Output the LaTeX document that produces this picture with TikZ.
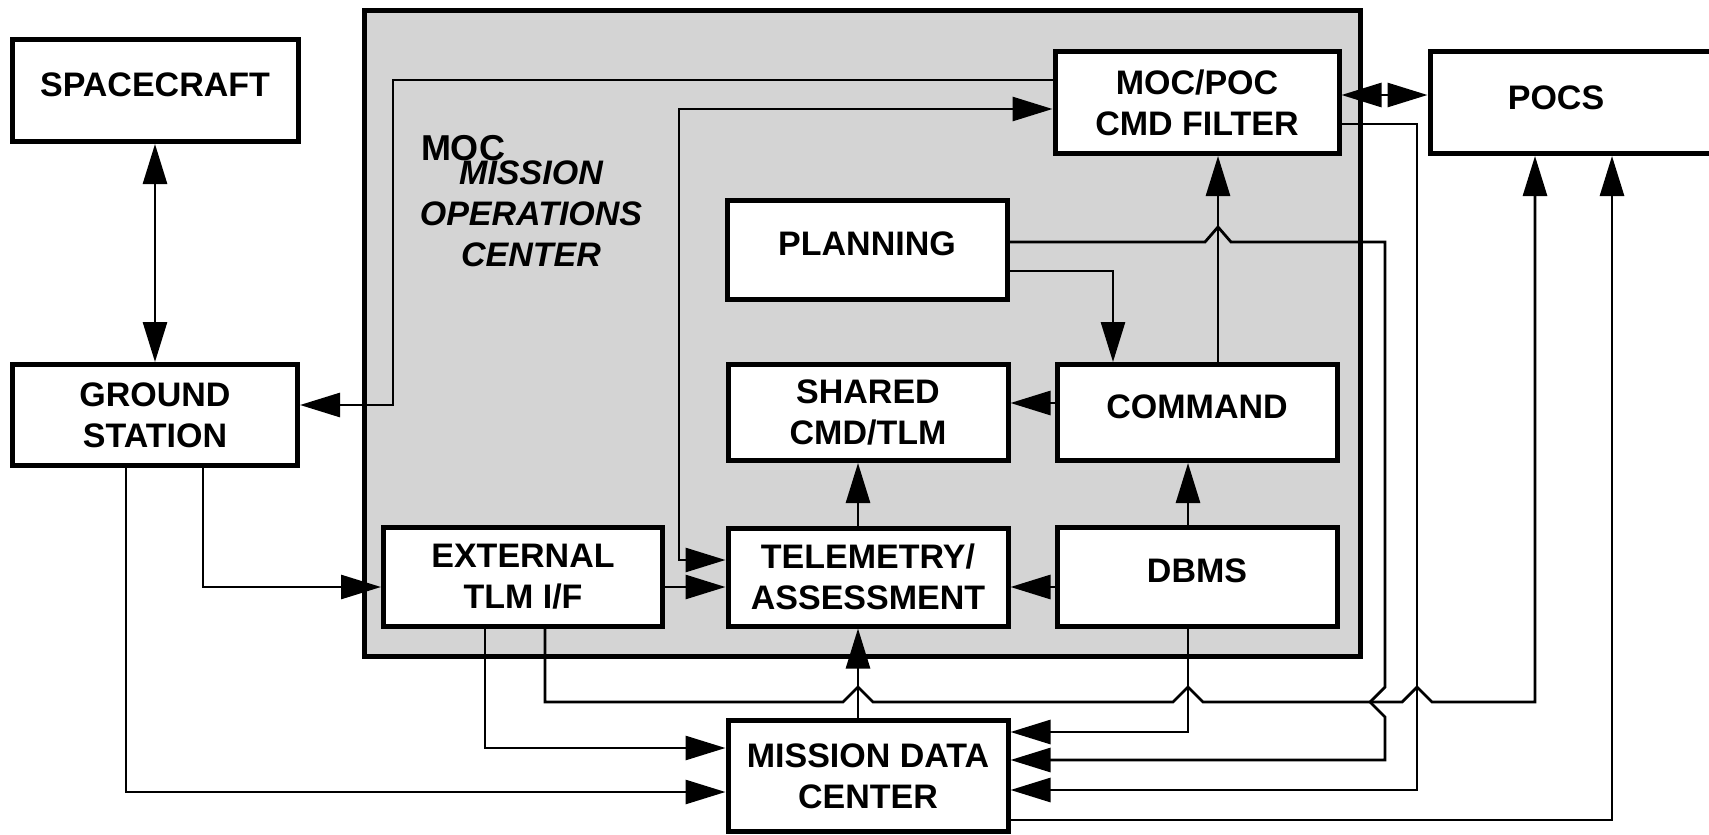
\documentclass[tikz,border=0pt]{standalone}
\usepackage{fontspec}
\setmainfont{Liberation Sans}
\usetikzlibrary{arrows.meta}

\tikzset{
  box/.style={draw,line width=2.5pt,fill=white,inner sep=0pt,align=center,minimum width=140pt,minimum height=49pt},
  uptext/.style={text depth=6pt},
  link/.style={line width=1.4pt},
  arr/.style={link,-{Triangle[length=20pt,width=12pt]}},
  dblarr/.style={link,{Triangle[length=20pt,width=12pt]}-{Triangle[length=20pt,width=12pt]}},
}

\begin{document}
\begin{tikzpicture}[x=0.5pt,y=-0.5pt,font=\fontsize{17pt}{20.5pt}\selectfont\bfseries]
  \useasboundingbox (0,0) rectangle (1709,835);

  % mission operations center
  \node[draw,line width=2.5pt,fill=black!17,minimum width=498pt,minimum height=323pt,inner sep=0pt] (moc) at (862,333) {};
  \node[anchor=base,font=\fontsize{18pt}{20pt}\selectfont\bfseries] (moclabel) at (463,160) {MOC};
  \node[align=center,inner sep=0pt,font=\fontsize{17pt}{20.5pt}\selectfont\bfseries\itshape] (mocname) at (531,214) {MISSION\\OPERATIONS\\CENTER};

  % boxes
  \node[box,uptext,minimum width=143pt,minimum height=51pt] (sc) at (155,90.5) {SPACECRAFT};
  \node[box,minimum width=142.5pt,minimum height=50.5pt] (gs) at (155,415) {GROUND\\STATION};
  \node[box,minimum width=142pt,minimum height=51pt] (filter) at (1197,102.5) {MOC/POC\\CMD FILTER};
  \node[box,minimum width=165pt,minimum height=51pt] (pocs) at (1595,102.5) {};
  \node (pocstext) at (1556,98) {POCS};
  \node[box,uptext,minimum height=49.5pt] (plan) at (867,250) {PLANNING};
  \node[box,minimum height=48pt] (shared) at (868,412.5) {SHARED\\CMD/TLM};
  \node[box,uptext,minimum height=48pt] (cmd) at (1197,412.5) {COMMAND};
  \node[box,minimum width=139.5pt,minimum height=49.5pt] (ext) at (523,577) {EXTERNAL\\TLM I/F};
  \node[box,minimum height=49pt] (tlm) at (868,577) {TELEMETRY/\\ASSESSMENT};
  \node[box,uptext,minimum height=49.5pt] (dbms) at (1197,577) {DBMS};
  \node[box,minimum height=55.5pt] (mdc) at (868,776) {MISSION DATA\\CENTER};

  % links
  \draw[dblarr] (sc.south) -- (gs.north);
  \draw[arr] ([yshift=11.25pt]filter.west) -- (393,80) |- ([yshift=5pt]gs.east);
  \draw[dblarr] ([yshift=8.5pt]tlm.west) -- (679,560) |- ([yshift=-3.25pt]filter.west);
  \draw[dblarr] ([yshift=3.75pt]filter.east) -- ([yshift=3.75pt]pocs.west);
  \draw[arr] ([xshift=10.5pt]cmd.north) -- ([xshift=10.5pt]filter.south);
  \draw[arr] ([yshift=-10.5pt]plan.east) -| ([xshift=-42pt]cmd.north);
  \draw[arr] ([yshift=4.75pt]cmd.west) -- ([yshift=4.75pt]shared.east);
  \draw[arr] ([xshift=-5pt]tlm.north) -- ([xshift=-5pt]shared.south);
  \draw[arr] ([xshift=-4.5pt]dbms.north) -- ([xshift=-4.5pt]cmd.south);
  \draw[arr] ([yshift=-5pt]dbms.west) -- ([yshift=-5pt]tlm.east);
  \draw[arr] ([yshift=-5pt]ext.east) -- ([yshift=-5pt]tlm.west);
  \draw[arr] ([xshift=24pt]gs.south) |- ([yshift=-5pt]ext.west);
  \draw[arr] ([xshift=-14.5pt]gs.south) |- ([yshift=-8pt]mdc.west);
  \draw[arr] ([xshift=-19pt]ext.south) |- ([yshift=14pt]mdc.west);
  \draw[arr] ([xshift=-5pt]mdc.north) -- ([xshift=-5pt]tlm.south);
  \draw[arr] ([xshift=-4.5pt]dbms.south) |- ([yshift=22pt]mdc.east);
  % lines with hops over crossings
  \draw[arr] ([xshift=11pt]ext.south) |- (843,702) -- (858,687) -- (873,702) -- (1173,702) -- (1188,687) -- (1203,702)
    -- (1402,702) -- (1417,687) -- (1432,702) -| ([xshift=-30pt]pocs.south);
  \draw[arr] ([yshift=4pt]plan.east) -- (1205,242) -- (1218,227) -- (1231,242) -- (1385,242) -- (1385,687)
    -- (1370,702) -- (1385,717) |- ([yshift=8pt]mdc.east);
  \draw[arr] ([yshift=-10.75pt]filter.east) -- (1417,124) |- ([yshift=-7pt]mdc.east);
  \draw[arr] ([yshift=-22pt]mdc.east) -| ([xshift=8.5pt]pocs.south);
\end{tikzpicture}
\end{document}
